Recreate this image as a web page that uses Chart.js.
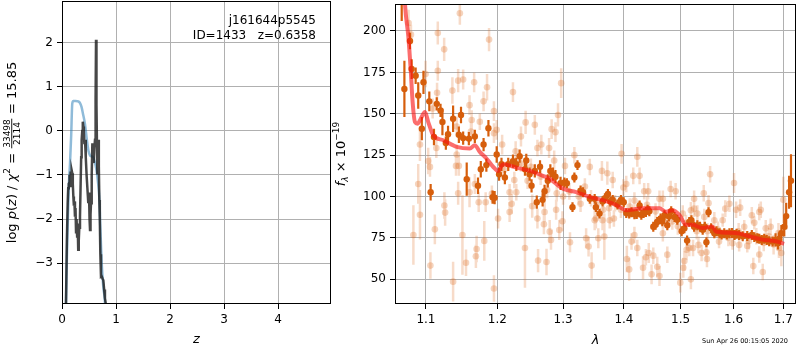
<!DOCTYPE html>
<html>
<head>
<meta charset="utf-8">
<script src="https://cdn.jsdelivr.net/npm/chart.js@4.4.1/dist/chart.umd.min.js"></script>
<style>
    body { margin: 0; background: #fff; width: 800px; height: 350px; overflow: hidden; position: relative; }
    #pz { position: absolute; left: 0; top: 0; }
    #spec { position: absolute; left: 330px; top: 0; }
</style>
</head>
<body>
<canvas id="pz" width="340" height="350"></canvas>
<canvas id="spec" width="470" height="350"></canvas>
<script>
// ---- left panel: p(z) ----
const zTicks = [0, 1, 2, 3, 4];
const pzTicks = [-3, -2, -1, 0, 1, 2];

const zLine = [0.060, 0.074, 0.090, 0.105, 0.115, 0.125, 0.132, 0.140, 0.150, 0.160,
    0.170, 0.180, 0.190, 0.200, 0.210, 0.220, 0.230, 0.240, 0.250, 0.260,
    0.270, 0.280, 0.290, 0.300, 0.310, 0.320, 0.333, 0.345, 0.355, 0.364,
    0.375, 0.385, 0.395, 0.405, 0.415, 0.426, 0.440, 0.457, 0.470, 0.487,
    0.500, 0.510, 0.519, 0.528, 0.537, 0.550, 0.562, 0.575, 0.586, 0.598,
    0.611, 0.622, 0.630, 0.638, 0.654, 0.665, 0.673, 0.682, 0.691, 0.700,
    0.710, 0.722, 0.735, 0.750, 0.765, 0.780, 0.795, 0.810, 0.830];
const pzLine = [-5.0, -3.9, -2.5, -1.64, -1.3, -1.2, -1.18, -1.0, -1.25, -0.92,
    -1.1, -0.9, -0.96, -1.2, -1.49, -1.7, -1.6, -1.95, -1.75, -2.3,
    -2.0, -2.4, -2.1, -2.7, -2.5, -2.2, -1.95, -1.2, -0.6, -0.2,
    0.0, 0.21, 0.1, -0.05, -0.3, -0.2, -0.6, -1.04, -1.3, -1.64,
    -1.4, -2.0, -2.25, -1.9, -1.64, -1.0, -0.28, -0.5, -0.73, -0.4,
    -0.2, 0.7, 2.07, 0.6, -0.96, -0.5, -0.2, -0.8, -1.57, -2.0,
    -2.8, -3.31, -3.3, -3.35, -3.39, -3.6, -3.8, -3.92, -5.0];

const zFit = [0.050, 0.074, 0.090, 0.110, 0.130, 0.148, 0.170, 0.190, 0.210, 0.250,
    0.300, 0.330, 0.360, 0.390, 0.426, 0.460, 0.490, 0.520, 0.550, 0.580,
    0.610, 0.640, 0.665, 0.690, 0.710, 0.735, 0.765, 0.796, 0.820];
const pzFit = [-5.0, -3.93, -2.9, -1.9, -1.15, -0.75, -0.1, 0.62, 0.68, 0.68,
    0.67, 0.64, 0.55, 0.38, 0.15, -0.2, -0.45, -0.56, -0.58, -0.6,
    -0.72, -0.9, -1.15, -1.5, -2.2, -3.0, -3.55, -3.93, -5.0];

// ---- right panel: spectrum ----
const lamTicks = [1.1, 1.2, 1.3, 1.4, 1.5, 1.6, 1.7];
const fluxTicks = [50, 75, 100, 125, 150, 175, 200];

const lamDark = [1.068, 1.0715, 1.0788, 1.081, 1.0863, 1.0897, 1.0945, 1.0967, 1.1045, 1.1063,
    1.1108, 1.1146, 1.1197, 1.1223, 1.127, 1.130, 1.137, 1.145, 1.148, 1.151,
    1.156, 1.159, 1.1675, 1.172, 1.176, 1.180, 1.184, 1.187, 1.193, 1.196,
    1.199, 1.2025, 1.206, 1.211, 1.216, 1.223, 1.228, 1.233, 1.241, 1.243,
    1.248, 1.251, 1.256, 1.259, 1.264, 1.268, 1.271, 1.276, 1.280, 1.284,
    1.288, 1.296, 1.302, 1.306, 1.315, 1.318, 1.323, 1.328, 1.332, 1.343,
    1.351, 1.353, 1.359, 1.364, 1.368, 1.373, 1.377, 1.381, 1.389, 1.395,
    1.3997, 1.404, 1.409, 1.413, 1.418, 1.422, 1.427, 1.430, 1.434, 1.438,
    1.441, 1.444, 1.451, 1.455, 1.458, 1.464, 1.467, 1.471, 1.476, 1.479,
    1.483, 1.489, 1.494, 1.502, 1.507, 1.512, 1.516, 1.520, 1.525, 1.531,
    1.536, 1.541, 1.545, 1.548, 1.552, 1.557, 1.563, 1.567, 1.573, 1.577,
    1.582, 1.587, 1.592, 1.597, 1.602, 1.606, 1.611, 1.618, 1.627, 1.636,
    1.641, 1.647, 1.651, 1.656, 1.661, 1.666, 1.671, 1.678, 1.684, 1.689,
    1.691, 1.696, 1.702, 1.706, 1.712, 1.716];
const fluxDark = [225, 165, 194, 177, 173, 161, 141, 169, 157.5, 102.6,
    136, 156, 152, 145, 132.3, 137.7, 147, 137.3, 149.3, 135.3,
    110.5, 135, 136.3, 106.5, 116.5, 131.4, 119, 141.3, 99.6, 99.3,
    125.4, 113.5, 119.5, 111.5, 119.5, 121.4, 119.5, 124.4, 116.5, 121.8,
    113.5, 106.5, 115.5, 96.6, 118, 98, 103.2, 109.5, 115.5, 113.5,
    112, 108, 108.5, 108, 93.6, 111.5, 119, 103.6, 102.6, 98.6,
    98.6, 93.6, 89.7, 97, 99, 101.6, 97, 98, 95.2, 98,
    96.6, 90, 89.7, 90.5, 89.3, 89.5, 94.6, 89, 90, 90.7,
    92, 91.1, 81.8, 83, 84.7, 86.7, 85, 88.7, 82.7, 88,
    91.2, 87.7, 86, 79, 80.8, 73.4, 84.7, 85.7, 81.8, 82.7,
    81.8, 80, 81.8, 72.4, 90.5, 80.8, 77.8, 79, 77.8, 77,
    77.8, 77, 77.8, 78, 76.8, 77.5, 76.8, 76, 76.2, 76.8,
    75.5, 74.8, 74.5, 73.8, 74.5, 73.8, 73, 72.8, 73.8, 72,
    74.2, 77.8, 81.8, 88.2, 102.6, 109.5];
const errDark = [19, 17, 5, 6, 5, 8, 7, 7, 6, 5,
    5, 4, 4, 8, 4, 5, 8, 5, 5, 4,
    10, 4, 4, 5, 5, 4, 4, 5, 4, 4,
    5, 4, 4, 4, 4, 4, 4, 4, 4, 4,
    4, 4, 4, 4, 4, 4, 4, 4, 4, 4,
    4, 4, 3, 3, 3, 3, 3, 3, 3, 3,
    3, 3, 3, 3, 3, 3, 3, 3, 3, 3,
    3, 3, 3, 3, 3, 3, 3, 3, 3, 3,
    3, 3, 3, 3, 3, 3, 3, 3, 3, 3,
    3, 3, 3, 3, 3, 3, 3, 3, 3, 3,
    3, 3, 3, 3, 3, 3, 3, 3, 3, 3,
    3, 3, 3, 3, 3, 3, 3, 3, 3, 3,
    3, 3, 3, 3, 3, 3, 3, 3, 4, 4,
    4, 5, 6, 8, 10, 16];

const lamLight = [1.077, 1.0801, 1.0833, 1.0897, 1.092, 1.092, 1.0995, 1.103, 1.1054, 1.106,
    1.109, 1.112, 1.114, 1.115, 1.116, 1.116, 1.125, 1.1247, 1.126, 1.136,
    1.137, 1.142, 1.142, 1.141, 1.144, 1.144, 1.145, 1.1464, 1.150, 1.151,
    1.155, 1.160, 1.160, 1.162, 1.163, 1.1665, 1.1675, 1.169, 1.170, 1.1746,
    1.173, 1.180, 1.181, 1.183, 1.185, 1.1879, 1.192, 1.195, 1.195, 1.195,
    1.199, 1.201, 1.207, 1.210, 1.218, 1.218, 1.221, 1.223, 1.225, 1.227,
    1.228, 1.235, 1.235, 1.241, 1.242, 1.245, 1.250, 1.252, 1.256, 1.260,
    1.260, 1.261, 1.265, 1.266, 1.270, 1.271, 1.274, 1.275, 1.278, 1.279,
    1.281, 1.282, 1.286, 1.288, 1.289, 1.290, 1.292, 1.294, 1.297, 1.299,
    1.300, 1.303, 1.310, 1.311, 1.318, 1.325, 1.328, 1.335, 1.337, 1.341,
    1.343, 1.345, 1.346, 1.351, 1.353, 1.355, 1.357, 1.363, 1.364, 1.365,
    1.367, 1.372, 1.375, 1.376, 1.381, 1.383, 1.385, 1.395, 1.396, 1.399,
    1.404, 1.405, 1.409, 1.410, 1.413, 1.416, 1.418, 1.418, 1.423, 1.423,
    1.425, 1.427, 1.433, 1.435, 1.438, 1.440, 1.442, 1.443, 1.448, 1.451,
    1.455, 1.458, 1.462, 1.462, 1.468, 1.468, 1.470, 1.476, 1.482, 1.485,
    1.491, 1.495, 1.4995, 1.504, 1.505, 1.507, 1.510, 1.511, 1.516, 1.519,
    1.519, 1.523, 1.525, 1.525, 1.530, 1.531, 1.533, 1.539, 1.543, 1.544,
    1.548, 1.549, 1.550, 1.552, 1.555, 1.563, 1.570, 1.572, 1.579, 1.584,
    1.590, 1.592, 1.598, 1.601, 1.605, 1.610, 1.611, 1.613, 1.621, 1.627,
    1.630, 1.636, 1.639, 1.641, 1.645, 1.651, 1.651, 1.654, 1.658, 1.660,
    1.664, 1.670, 1.674, 1.680, 1.690, 1.691, 1.696, 1.700];
const fluxLight = [204.8, 197.8, 76.8, 107.6, 131.4, 89, 174, 121.4, 117.9, 58.3,
    153.2, 80.2, 129.3, 162.7, 198.8, 176, 94.6, 188.9, 90.3, 164,
    48.6, 142.3, 125.4, 118.5, 170, 102, 118.5, 210.7, 76.8, 170.7,
    60, 155.2, 102.6, 139.3, 146.2, 169, 107.6, 63.9, 68.3, 145.2,
    96.6, 157.5, 73.2, 96.6, 166, 194.8, 101.6, 151.6, 138.3, 44.5,
    140.3, 86.7, 131.4, 116, 102.6, 90.7, 95.6, 163.1, 110, 127.4,
    102.6, 136.3, 120, 68.9, 144.8, 109.5, 118, 94.2, 143.3, 129.3,
    86.7, 61.3, 112, 131.4, 83.3, 90.7, 60.5, 104, 129.3, 78.8,
    73.8, 140.7, 121.8, 138.9, 92, 102, 149.3, 79.8, 168.5, 85.1,
    100, 118.5, 103, 72.4, 125, 100, 95.6, 106, 74.8, 69.8,
    117.9, 99, 58.3, 85.7, 86.7, 95, 74.8, 115.5, 85.7, 92,
    75.8, 114.1, 93, 85.7, 110, 86.7, 96, 92, 125.8, 105.5,
    107.6, 62.3, 56, 94, 72.8, 112.5, 97.6, 76.8, 124, 68.9,
    92, 112.5, 57, 103.2, 63.3, 95, 103.2, 65.9, 53, 64.3,
    91, 57.6, 98.6, 52, 98.6, 77.8, 87, 64.9, 104.6, 85,
    103.2, 82, 48, 89.7, 57, 61, 84, 67.9, 68.9, 50,
    91.7, 68.9, 92.7, 98.6, 79, 89.7, 70.8, 65.9, 102, 87.7,
    66.3, 62.3, 79, 96, 113.5, 85.7, 80, 72.8, 85.7, 92.7,
    75, 95.6, 71.8, 108.2, 92, 79, 70.8, 93.3, 81.8, 70.2,
    73, 88.7, 58, 84.1, 76, 90.7, 65, 92, 54.4, 72,
    80.8, 76, 81.8, 71, 78, 68.9, 65.9, 98];
const errLight = [8, 6, 18, 12, 10, 15, 8, 8, 6, 8,
    6, 9, 6, 6, 7, 6, 8, 7, 8, 8,
    12, 6, 6, 6, 7, 7, 6, 7, 24, 6,
    8, 6, 9, 6, 6, 6, 6, 7, 8, 5,
    6, 6, 12, 6, 8, 7, 5, 6, 6, 8,
    6, 6, 6, 5, 5, 6, 6, 6, 5, 6,
    5, 6, 5, 24, 7, 5, 5, 7, 6, 5,
    6, 7, 5, 6, 6, 6, 8, 5, 6, 7,
    6, 6, 6, 6, 6, 5, 7, 6, 9, 6,
    5, 5, 5, 6, 5, 5, 5, 5, 6, 6,
    5, 5, 8, 6, 6, 5, 6, 6, 6, 5,
    14, 7, 5, 5, 5, 5, 5, 5, 6, 5,
    5, 8, 7, 5, 5, 5, 5, 5, 6, 5,
    5, 5, 7, 5, 5, 5, 5, 6, 6, 5,
    5, 6, 5, 6, 5, 5, 5, 5, 5, 5,
    5, 5, 6, 5, 6, 6, 5, 6, 5, 6,
    5, 5, 5, 5, 5, 5, 5, 5, 5, 5,
    5, 5, 5, 5, 5, 5, 5, 4, 4, 5,
    5, 5, 4, 6, 5, 5, 4, 5, 4, 4,
    5, 5, 5, 4, 5, 5, 5, 5, 5, 5,
    5, 5, 5, 6, 6, 6, 8, 14];

const lamModel = [1.0700, 1.0723, 1.0766, 1.0797, 1.0823, 1.0854, 1.0890, 1.0920, 1.0987, 1.1031,
    1.1098, 1.1234, 1.1420, 1.1604, 1.1675, 1.1746, 1.1841, 1.1937, 1.2010, 1.2084,
    1.2282, 1.2482, 1.2685, 1.2789, 1.2997, 1.3209, 1.3426, 1.3646, 1.3871, 1.4037,
    1.4326, 1.4501, 1.4617, 1.4737, 1.4856, 1.4977, 1.5099, 1.5221, 1.5407, 1.5594,
    1.5658, 1.6044, 1.6307, 1.6574, 1.6849, 1.7016];
const fluxModel = [240, 216, 196.8, 177, 157, 145, 144, 146, 151, 145,
    137, 134, 130, 129, 131, 127, 123, 118, 115.5, 119.5,
    117.5, 115.5, 112.5, 110.7, 104.8, 102.7, 99.8, 97.8, 94.8, 91.8,
    92.9, 92.9, 92.9, 90.8, 91.8, 88.9, 82.9, 82.9, 81, 81.9,
    78.9, 78, 76, 74, 73, 71.4];

const darkOrange = 'rgb(214, 94, 12)';
const lightOrange = 'rgba(222, 112, 40, 0.30)';
const lightOrangeBar = 'rgba(222, 112, 40, 0.25)';
const FONT = '"DejaVu Sans", sans-serif';

Chart.defaults.font.family = FONT;
Chart.defaults.font.size = 12;
Chart.defaults.color = '#000';

function toPoints(xs, ys) {
    return xs.map((x, i) => ({ x: x, y: ys[i] }));
}

// vertical error bars as one broken line: lo, hi, gap
function errSegments(xs, ys, es) {
    const out = [];
    xs.forEach((x, i) => {
        out.push({ x: x, y: ys[i] - es[i] }, { x: x, y: ys[i] + es[i] }, { x: x, y: null });
    });
    return out;
}

function fixTicks(values) {
    return scale => { scale.ticks = values.map(v => ({ value: v })); };
}

// fixed axis box, no extra padding from the end labels
function fixSize(w, h) {
    return s => {
        if (w) s.width = w;
        if (h) s.height = h;
        s.paddingTop = 0; s.paddingBottom = 0;
        s.paddingLeft = 0; s.paddingRight = 0;
    };
}

const minus = v => String(v).replace('-', '\u2212');

// text with italic / super / sub / fraction pieces
function drawRich(ctx, parts, cx, cy, vertical) {
    ctx.save();
    ctx.translate(cx, cy);
    if (vertical) ctx.rotate(-Math.PI / 2);
    ctx.fillStyle = '#000';
    ctx.textBaseline = 'alphabetic';
    ctx.textAlign = 'left';
    const fontOf = p => `${p.it ? 'italic ' : ''}${p.size || 13}px ${FONT}`;
    let total = 0;
    parts.forEach(p => {
        ctx.font = fontOf(p);
        p.w = p.num ? Math.max(ctx.measureText(p.num).width, ctx.measureText(p.den).width) + 2
                    : ctx.measureText(p.t).width;
        total += p.w;
    });
    let x = -total / 2;
    parts.forEach(p => {
        ctx.font = fontOf(p);
        if (p.num) {
            ctx.textAlign = 'center';
            ctx.fillText(p.num, x + p.w / 2, -0.5);
            ctx.fillText(p.den, x + p.w / 2, 9.5);
            ctx.fillRect(x + 0.5, 0.8, p.w - 1, 0.9);
            ctx.textAlign = 'left';
        } else {
            ctx.fillText(p.t, x, 5 + (p.dy || 0));
        }
        x += p.w;
    });
    ctx.restore();
}

const framePlugin = {
    id: 'frame',
    afterDraw(chart, args, opts) {
        const { ctx, chartArea: a } = chart;
        ctx.save();
        ctx.strokeStyle = '#000';
        ctx.lineWidth = 1;
        ctx.strokeRect(a.left + 0.5, a.top + 0.5, a.right - a.left - 1, a.bottom - a.top - 1);
        ctx.restore();
        if (opts.draw) opts.draw(ctx, a);
    }
};

function axisOpts(extra) {
    return Object.assign({
        border: { display: false },
        grid: { color: '#b0b0b0', lineWidth: 1, tickColor: '#000', tickLength: 5 },
        ticks: { padding: 4, autoSkip: false, maxRotation: 0, font: { size: 12 } }
    }, extra);
}

// left chart
new Chart(document.getElementById('pz'), {
    type: 'scatter',
    data: {
        datasets: [
            {
                data: toPoints(zLine, pzLine),
                showLine: true, pointRadius: 0,
                borderColor: 'rgba(30, 30, 30, 0.82)', borderWidth: 2.5,
                clip: 0
            },
            {
                data: toPoints(zFit, pzFit),
                showLine: true, pointRadius: 0,
                borderColor: 'rgba(31, 119, 180, 0.5)', borderWidth: 2.5,
                cubicInterpolationMode: 'monotone',
                clip: 0
            }
        ]
    },
    options: {
        responsive: false,
        animation: false,
        layout: { padding: { top: 1, right: 9, left: 0, bottom: 0 } },
        plugins: {
            legend: { display: false },
            tooltip: { enabled: false },
            frame: {
                draw(ctx, a) {
                    ctx.save();
                    ctx.font = `12px ${FONT}`;
                    ctx.fillStyle = '#000';
                    ctx.textAlign = 'right';
                    ctx.fillText('j161644p5545', 316, 24);
                    ctx.fillText('ID=1433   z=0.6358', 316, 39);
                    ctx.restore();
                    drawRich(ctx, [
                        { t: 'log ' }, { t: 'p', it: true }, { t: '(' }, { t: 'z', it: true }, { t: ') / ' },
                        { t: '\u03c7', it: true }, { t: '2', size: 9, dy: -6 }, { t: ' = ' },
                        { num: '33498', den: '2114', size: 9 }, { t: ' = 15.85' }
                    ], 10.5, (a.top + a.bottom) / 2, true);
                    drawRich(ctx, [{ t: 'z', it: true }], (a.left + a.right) / 2, 338, false);
                }
            }
        },
        scales: {
            x: axisOpts({
                type: 'linear', min: 0, max: 4.98,
                afterBuildTicks: fixTicks(zTicks),
                afterFit: fixSize(0, 46)
            }),
            y: axisOpts({
                type: 'linear', min: -3.93, max: 2.95,
                afterBuildTicks: fixTicks(pzTicks),
                afterFit: fixSize(62, 0),
                ticks: { padding: 4, autoSkip: false, font: { size: 12 }, callback: v => minus(v) }
            })
        }
    },
    plugins: [framePlugin]
});

// right chart
new Chart(document.getElementById('spec'), {
    type: 'scatter',
    data: {
        datasets: [
            {
                data: toPoints(lamModel, fluxModel),
                showLine: true, pointRadius: 0,
                borderColor: 'rgba(250, 20, 20, 0.62)', borderWidth: 4,
                cubicInterpolationMode: 'monotone',
                clip: 0
            },
            {
                data: toPoints(lamDark, fluxDark),
                pointRadius: 3.2, borderWidth: 0,
                backgroundColor: darkOrange,
                clip: 0
            },
            {
                data: errSegments(lamDark, fluxDark, errDark),
                showLine: true, pointRadius: 0, spanGaps: false,
                borderColor: darkOrange, borderWidth: 2.2,
                clip: 0
            },
            {
                data: toPoints(lamLight, fluxLight),
                pointRadius: 3.3, borderWidth: 0,
                backgroundColor: lightOrange,
                clip: 0
            },
            {
                data: errSegments(lamLight, fluxLight, errLight),
                showLine: true, pointRadius: 0, spanGaps: false,
                borderColor: lightOrangeBar, borderWidth: 2.5,
                clip: 0
            }
        ]
    },
    options: {
        responsive: false,
        animation: false,
        layout: { padding: { top: 1, right: 3, left: 0, bottom: 0 } },
        plugins: {
            legend: { display: false },
            tooltip: { enabled: false },
            frame: {
                draw(ctx, a) {
                    drawRich(ctx, [
                        { t: 'f', it: true }, { t: '\u03bb', it: true, size: 9, dy: 3 },
                        { t: ' \u00d7 10' }, { t: '\u221219', size: 9, dy: -6 }
                    ], 10, (a.top + a.bottom) / 2, true);
                    drawRich(ctx, [{ t: '\u03bb', it: true }], (a.left + a.right) / 2, 339, false);
                    ctx.save();
                    ctx.font = `6.5px ${FONT}`;
                    ctx.fillStyle = '#000';
                    ctx.textAlign = 'right';
                    ctx.fillText('Sun Apr 26 00:15:05 2020', 458, 343);
                    ctx.restore();
                }
            }
        },
        scales: {
            x: axisOpts({
                type: 'logarithmic', min: 1.0593, max: 1.7265,
                afterBuildTicks: fixTicks(lamTicks),
                afterFit: fixSize(0, 46),
                ticks: { padding: 4, autoSkip: false, maxRotation: 0, font: { size: 12 }, callback: v => Number(v).toFixed(1) }
            }),
            y: axisOpts({
                type: 'linear', min: 35.1, max: 216.3,
                afterBuildTicks: fixTicks(fluxTicks),
                afterFit: fixSize(65, 0)
            })
        }
    },
    plugins: [framePlugin]
});
</script>
</body>
</html>
